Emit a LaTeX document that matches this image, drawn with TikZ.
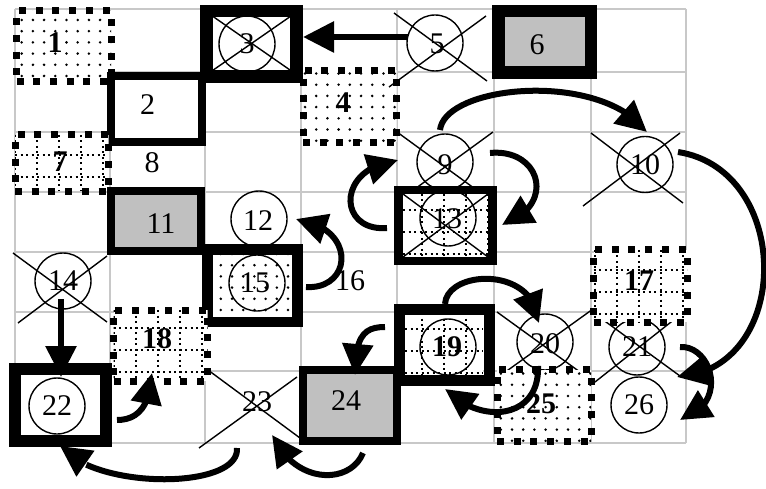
\documentclass[tikz,border=0pt]{standalone}
\usepackage{fontspec}
\setmainfont{Liberation Serif}
\usetikzlibrary{arrows.meta,bending}
\definecolor{gridgray}{RGB}{200,200,200}
\definecolor{boxgray}{RGB}{192,192,192}
\newcommand\mydots[6]{%
  \begin{scope}
  \clip (#1,#2) rectangle (#3,#4);
  \fill[white] (#1,#2) rectangle (#3,#4);
  \foreach \i in {0,...,9}{\foreach \j in {0,...,8}{\fill ({#5+11.2*\i},{#6+11.2*\j}) circle (1.4pt);}}
  \end{scope}}
\newcommand\mygrid[6]{%
  \begin{scope}
  \clip (#1,#2) rectangle (#3,#4);
  \fill[white] (#1,#2) rectangle (#3,#4);
  \foreach \i in {0,...,5}{\draw[dotln] ({#5+22*\i},#2) -- ({#5+22*\i},#4);}
  \foreach \j in {0,...,4}{\draw[dotln] (#1,{#6+22*\j}) -- (#3,{#6+22*\j});}
  \end{scope}}
\tikzset{
  gridln/.style={draw=gridgray, line width=2pt},
  dotln/.style={line width=2pt, dash pattern=on 2pt off 3.5pt},
  thickbox/.style={draw=black, fill=white, inner sep=0pt},
  dashbox/.style={draw=black, line width=7pt, dash pattern=on 7pt off 9.7pt, inner sep=0pt},
  xln/.style={line width=1.4pt},
  circ/.style={circle, draw, line width=1.4pt, minimum size=56pt, inner sep=0pt},
  lab/.style={font=\fontsize{30pt}{34pt}\selectfont, inner sep=0pt},
  blab/.style={font=\fontsize{30pt}{34pt}\selectfont\bfseries, inner sep=0pt},
  arr/.style={line width=6pt, -{Triangle[length=31pt,width=30pt]}},
}
\begin{document}
\begin{tikzpicture}[x=1pt,y=-1pt]
\useasboundingbox (0,0) rectangle (766,489);
% grid
\foreach \x in {15,110,205,301,397,494,591,686} \draw[gridln] (\x,9) -- (\x,443);
\foreach \y in {9,72,132,192,252,312,371,443} \draw[gridln] (15,\y) -- (686,\y);
% 1
\mydots{16.5}{11}{111}{82}{10.5}{8.8}
\node[dashbox, minimum width=94.5pt, minimum height=71pt] (b1) at (63.75,46.5) {};
\node[blab] (t1) at (55,42.5) {1};
% 2
\node[thickbox, line width=8pt, minimum width=91pt, minimum height=66.5pt] (b2) at (156.5,109.25) {};
\node[lab] (t2) at (147.5,105) {2};
% 3
\node[thickbox, line width=12.5pt, minimum width=90pt, minimum height=65.5pt] (b3) at (251.5,43.75) {};
\draw[xln] (213.3,16.7) -- (290,70) (213.3,70) -- (290,16.7);
\node[circ] (c3) at (247,44) {};
\node[lab] (t3) at (247,44) {3};
% 4
\mydots{303}{70.5}{396.5}{142.5}{305}{73.5}
\node[dashbox, minimum width=93.5pt, minimum height=72pt] (b4) at (349.75,106.5) {};
\node[blab] (t4) at (343,103) {4};
% 5
\node[circ] (c5) at (435,43) {};
\draw[xln] (394,13) -- (487,81) (486,16) -- (389,87);
\node[lab] (t5) at (437,44) {5};
% 6
\node[thickbox, fill=boxgray, line width=12.5pt, minimum width=92.5pt, minimum height=61.5pt] (b6) at (544.75,41.75) {};
\node[lab] (t6) at (537,45) {6};
% 7
\mygrid{15}{135}{108.5}{191.5}{15}{133}
\node[dashbox, minimum width=93.5pt, minimum height=56.5pt] (b7) at (61.75,163.25) {};
\node[blab] (t7) at (60,162) {7};
% 8
\node[lab] (t8) at (152,163) {8};
% 9
\node[circ] (c9) at (445,162) {};
\draw[xln] (397,132) -- (493,202) (493,132) -- (397,202);
\node[lab] (t9) at (445,165) {9};
% 10
\node[circ] (c10) at (645,164.5) {};
\draw[xln] (591,133) -- (683,203) (680,133) -- (583,206);
\node[lab] (t10) at (645,165) {10};
% 11
\node[thickbox, fill=boxgray, line width=8pt, minimum width=90pt, minimum height=60pt] (b11) at (156,221) {};
\node[lab] (t11) at (161,224) {11};
% 12
\node[circ] (c12) at (259,219) {};
\node[lab] (t12) at (258,221) {12};
% 13
\mygrid{403}{194}{488}{257}{400}{188}
\node[thickbox, fill=none, line width=8.5pt, minimum width=94pt, minimum height=71pt] (b13) at (445.5,225.5) {};
\draw[xln] (403,194) -- (488,257) (403,257) -- (488,194);
\node[circ] (c13) at (448,218) {};
\node[lab] (t13) at (447,219) {13};
% 14
\node[circ] (c14) at (63,281) {};
\draw[xln] (13,253) -- (107,322) (107,256) -- (18,323);
\node[lab] (t14) at (63,281) {14};
% 15
\mydots{213}{255}{292}{317}{209.6}{254}
\node[thickbox, fill=none, line width=10.5pt, minimum width=90pt, minimum height=72.5pt] (b15) at (252.5,285.75) {};
\node[circ] (c15) at (257,283) {};
\node[lab] (t15) at (255,283) {15};
% 16
\node[lab] (t16) at (350,281) {16};
% 18
\mygrid{113.5}{310}{207.5}{381}{114}{306}
\node[dashbox, minimum width=94pt, minimum height=71pt] (b18) at (160.5,345.5) {};
\node[blab] (t18) at (157,339) {18};
% 19
\mygrid{405}{313}{483}{375}{400}{307}
\node[thickbox, fill=none, line width=11pt, minimum width=90pt, minimum height=71.5pt] (b19) at (444,344.75) {};
\node[circ] (c19) at (448,347) {};
\node[blab] (t19) at (447,347) {19};
% 20
\node[circ] (c20) at (545,342) {};
\draw[xln] (497,312) -- (591,380) (593,309) -- (497,378);
\node[lab] (t20) at (545,344) {20};
% 21
\node[circ] (c21) at (637,347) {};
\draw[xln] (591,311) -- (680,376) (685,311) -- (595,382);
\node[lab] (t21) at (637,347) {21};
% 17
\mygrid{593.5}{250}{687}{322}{595}{248}
\node[dashbox, minimum width=93.5pt, minimum height=72pt] (b17) at (640.25,286) {};
\node[blab] (t17) at (639,281) {17};
% 22
\node[thickbox, line width=12pt, minimum width=91pt, minimum height=72pt] (b22) at (60,405) {};
\node[circ] (c22) at (57,406) {};
\node[lab] (t22) at (57,406) {22};
% 23
\draw[xln] (208,370) -- (300,438) (199,448) -- (297,377);
\node[lab] (t23) at (257,402) {23};
% 24
\node[thickbox, fill=boxgray, line width=8pt, minimum width=93.5pt, minimum height=71pt] (b24) at (349.75,405.5) {};
\node[lab] (t24) at (346,401) {24};
% 25
\mydots{497}{369.5}{591}{441}{500.8}{373.6}
\node[dashbox, minimum width=94pt, minimum height=71.5pt] (b25) at (544,405.25) {};
\node[blab] (t25) at (541,404) {25};
% 26
\node[circ] (c26) at (639,405) {};
\node[lab] (t26) at (639,405) {26};
% connectors
\draw[arr] ([shift={(-27,-6)}]c5.center) -- ([shift={(51.5,-6.75)}]b3.center);
\draw[arr] ([shift={(-5,-32)}]c9.center) .. controls +(5,-45) and +(-47,-62) .. ([shift={(2,-32.5)}]c10.center);
\draw[arr] ([shift={(45,-9)}]c9.center) .. controls +(50,-5) and +(56,-20) .. ([shift={(56.5,-0.5)}]b13.center);
\draw[arr] ([shift={(-58.5,2.5)}]b13.center) .. controls +(-49,4) and +(-63,8) .. ([shift={(-47,-2)}]c9.center);
\draw[arr] ([shift={(33,-12.5)}]c10.center) .. controls +(115,18) and +(116,-7) .. ([shift={(40,30)}]c21.center);
\draw[arr] ([shift={(43,0)}]c21.center) .. controls +(32,-2) and +(50,-15) .. ([shift={(41,15)}]c26.center);
\draw[arr] ([shift={(-2,18)}]c14.center) -- ([shift={(1,-28)}]b22.center);
\draw[arr] ([shift={(57,15)}]b22.center) .. controls +(18,0) and +(-2,37) .. ([shift={(-8.5,27.5)}]b18.center);
\draw[arr] ([shift={(-20,46)}]t23.center) .. controls +(3,42) and +(35,44) .. ([shift={(0,41)}]b22.center);
\draw[arr] ([shift={(13.25,47.5)}]b24.center) .. controls +(-13,32) and +(23,50) .. ([shift={(15,33)}]t23.center);
\draw[arr] ([shift={(-59,-17.75)}]b19.center) .. controls +(-20,0) and +(0,-40) .. ([shift={(5.25,-30.5)}]b24.center);
\draw[arr] ([shift={(1,-40.75)}]b19.center) .. controls +(2,-34) and +(-4,-58) .. ([shift={(-6,-19)}]c20.center);
\draw[arr] ([shift={(-7,24)}]c20.center) .. controls +(2,54) and +(35,36) .. ([shift={(1,44.25)}]b19.center);
\draw[arr] ([shift={(53.5,1.25)}]b15.center) .. controls +(46,3) and +(62,9) .. ([shift={(37,0)}]c12.center);
\end{tikzpicture}
\end{document}
